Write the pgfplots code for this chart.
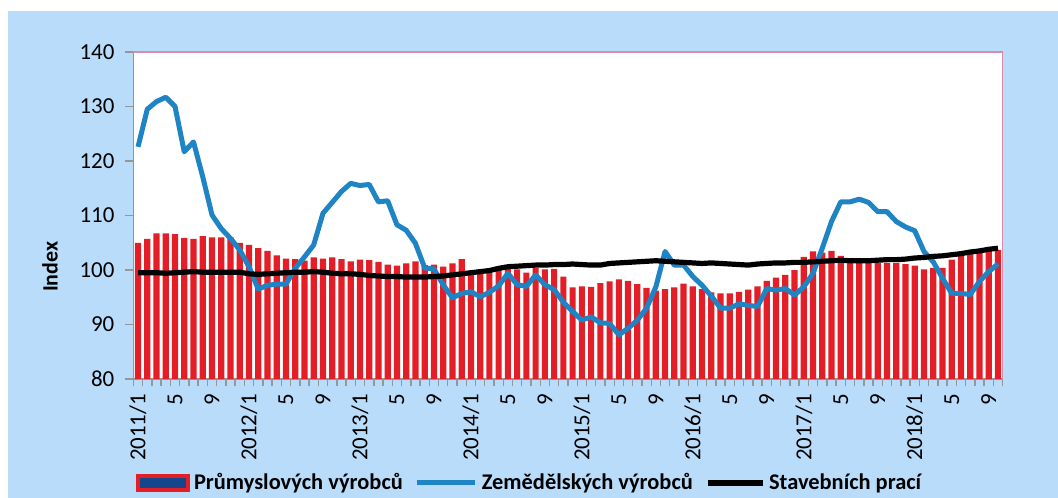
\documentclass[border=0pt]{standalone}
\usepackage{fontspec}
\setmainfont{Carlito}
\usepackage{pgfplots}
\pgfplotsset{compat=1.18}
\usepackage{pgfplotstable}
\definecolor{bgblue}{RGB}{184,220,250}
\definecolor{barred}{RGB}{228,30,38}
\definecolor{legblue}{RGB}{20,70,140}
\definecolor{lineblue}{RGB}{30,132,196}
\definecolor{axgray}{RGB}{150,150,150}
\definecolor{pinkb}{RGB}{214,140,170}

\pgfplotstableread{
x y
0 105.0
1 105.7
2 106.7
3 106.7
4 106.6
5 105.9
6 105.7
7 106.2
8 106.0
9 106.0
10 106.0
11 105.0
12 104.6
13 104.0
14 103.5
15 102.7
16 102.1
17 102.0
18 101.7
19 102.3
20 102.1
21 102.3
22 102.0
23 101.6
24 101.9
25 101.8
26 101.5
27 101.0
28 100.8
29 101.2
30 101.6
31 100.9
32 101.0
33 100.6
34 101.2
35 102.0
36 99.3
37 99.4
38 99.6
39 100.1
40 100.3
41 100.1
42 99.5
43 100.4
44 100.1
45 100.2
46 98.8
47 96.8
48 97.0
49 96.9
50 97.6
51 97.9
52 98.3
53 98.0
54 97.4
55 96.7
56 96.2
57 96.5
58 96.8
59 97.5
60 97.0
61 96.5
62 95.9
63 95.7
64 95.7
65 96.0
66 96.4
67 97.0
68 98.0
69 98.6
70 99.1
71 100.0
72 102.4
73 103.4
74 103.2
75 103.5
76 102.6
77 101.8
78 101.4
79 101.3
80 101.3
81 101.3
82 101.3
83 101.1
84 100.8
85 100.1
86 100.4
87 100.4
88 101.9
89 102.6
90 102.9
91 103.1
92 103.5
93 103.7
}\prum

\pgfplotstableread{
x y
0 122.6
1 129.5
2 130.9
3 131.7
4 130.0
5 121.7
6 123.5
7 117.1
8 110.1
9 107.6
10 105.8
11 103.7
12 100.6
13 96.5
14 97.2
15 97.4
16 97.4
17 100.3
18 102.4
19 104.6
20 110.4
21 112.4
22 114.4
23 115.9
24 115.5
25 115.7
26 112.5
27 112.7
28 108.3
29 107.3
30 104.9
31 100.4
32 100.2
33 97.3
34 94.9
35 95.7
36 96.0
37 95.1
38 95.9
39 97.1
40 99.4
41 97.3
42 97.0
43 99.1
44 97.3
45 96.4
46 94.1
47 92.4
48 90.8
49 91.4
50 90.3
51 90.2
52 88.1
53 89.3
54 90.8
55 93.0
56 96.9
57 103.4
58 100.9
59 100.9
60 98.8
61 97.2
62 95.2
63 93.0
64 93.0
65 93.8
66 93.5
67 93.3
68 96.6
69 96.3
70 96.6
71 95.4
72 96.9
73 99.4
74 104.0
75 108.9
76 112.5
77 112.5
78 113.0
79 112.4
80 110.7
81 110.7
82 108.9
83 107.9
84 107.2
85 103.4
86 101.5
87 98.5
88 95.7
89 95.7
90 95.5
91 97.9
92 99.7
93 101.1
}\zem

\pgfplotstableread{
x y
0 99.5
1 99.5
2 99.5
3 99.4
4 99.5
5 99.6
6 99.7
7 99.6
8 99.6
9 99.6
10 99.6
11 99.6
12 99.3
13 99.2
14 99.3
15 99.4
16 99.5
17 99.6
18 99.6
19 99.7
20 99.6
21 99.4
22 99.3
23 99.3
24 99.2
25 99.0
26 98.9
27 98.8
28 98.8
29 98.7
30 98.7
31 98.7
32 98.8
33 98.9
34 99.1
35 99.3
36 99.5
37 99.7
38 99.9
39 100.3
40 100.6
41 100.7
42 100.8
43 100.9
44 100.9
45 101.0
46 101.0
47 101.1
48 101.0
49 100.9
50 100.9
51 101.2
52 101.3
53 101.4
54 101.5
55 101.6
56 101.7
57 101.6
58 101.5
59 101.4
60 101.3
61 101.2
62 101.3
63 101.2
64 101.1
65 101.0
66 100.9
67 101.1
68 101.2
69 101.3
70 101.3
71 101.4
72 101.4
73 101.5
74 101.6
75 101.7
76 101.8
77 101.7
78 101.7
79 101.7
80 101.8
81 101.9
82 101.9
83 102.0
84 102.2
85 102.3
86 102.5
87 102.6
88 102.8
89 103.0
90 103.3
91 103.5
92 103.8
93 104.0
}\stav

\begin{document}
\begin{tikzpicture}
\fill[white] (-66.7bp,-59.5bp) rectangle (462.3bp,189.5bp);
\fill[bgblue] (-62.7bp,-59.5bp) rectangle (462.3bp,184bp);
\begin{axis}[
  at={(0,0)}, anchor=south west,
  width=434.6bp, height=163.5bp, scale only axis,
  xmin=-0.5, xmax=93.5, ymin=80, ymax=140,
  ytick={80,90,...,140},
  xtick={0,4,...,92},
  xticklabels={2011/1,5,9,2012/1,5,9,2013/1,5,9,2014/1,5,9,2015/1,5,9,2016/1,5,9,2017/1,5,9,2018/1,5,9},
  minor xtick={-0.5,0.5,...,93.5},
  axis x line*=bottom, axis y line*=left,
  axis line style={draw=axgray, line width=0.7bp, -},
  axis background/.style={fill=white},
  tick align=outside,
  major tick length=4bp, minor tick length=3.5bp,
  major x tick style={draw=none},
  minor x tick style={draw=axgray, line width=0.7bp},
  y tick style={draw=axgray, line width=0.7bp},
  /pgf/number format/assume math mode=true,
  tick label style={font=\fontsize{11.5}{13}\selectfont},
  yticklabel style={xshift=-2bp},
  xticklabel style={rotate=90, anchor=east},
  ylabel={Index},
  ylabel style={font=\bfseries\fontsize{11}{13}\selectfont, at={(axis description cs:-0.096,0.343)}, anchor=center},
  legend columns=3,
  legend style={at={(0.457,-0.318)}, anchor=center, draw=none, fill=none,
    font=\bfseries\fontsize{11.25}{13}\selectfont,
    /tikz/every even column/.append style={column sep=4bp}},
  clip mode=individual,
]
\addplot[ybar, bar width=3.1bp, bar shift=0pt, fill=barred, draw=none,
  legend image code/.code={\draw[draw=barred, line width=2bp, fill=legblue] (1bp,-3.5bp) rectangle (26bp,3.5bp);}]
  table[x=x,y=y] {\prum};
\addlegendentry{Průmyslových výrobců}
\addplot[draw=lineblue, line width=2.5bp, line join=round, mark=none,
  legend image code/.code={\draw[draw=lineblue, line width=2.5bp] (0bp,0bp) -- (29bp,0bp);}]
  table[x=x,y=y] {\zem};
\addlegendentry{Zemědělských výrobců}
\addplot[draw=black, line width=2.6bp, line join=round, mark=none,
  legend image code/.code={\draw[draw=black, line width=2.6bp] (0bp,0bp) -- (27.5bp,0bp);}]
  table[x=x,y=y] {\stav};
\addlegendentry{Stavebních prací}
\draw[pinkb, line width=0.7bp] (rel axis cs:0,1) -- (rel axis cs:1,1) -- (rel axis cs:1,0);
\end{axis}
\pgfresetboundingbox
\path (-66.7bp,-59.5bp) rectangle (462.3bp,189.5bp);
\end{tikzpicture}
\end{document}
